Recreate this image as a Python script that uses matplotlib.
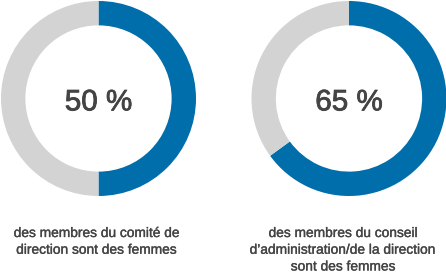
import matplotlib.pyplot as plt
import matplotlib.patheffects as pe

# données
pourcentages = [50, 65]
libelles = ["50 %", "65 %"]
legendes = [
    "des membres du comité de\ndirection sont des femmes",
    "des membres du conseil\nd\u2019administration/de la direction\nsont des femmes",
]

BLEU = "#006eaa"
GRIS = "#d3d3d3"
TEXTE = "#444444"

W, H = 446, 274
plt.rcParams["font.family"] = ["Liberation Sans", "DejaVu Sans"]
fig = plt.figure(figsize=(W / 100, H / 100), dpi=100)

centres_x = [98.5, 349]
centre_y = 98.5
rayon = 97.5
epais = [pe.withStroke(linewidth=0.6, foreground=TEXTE)]

for cx, p, lib in zip(centres_x, pourcentages, libelles):
    ax = fig.add_axes([(cx - rayon) / W, (H - centre_y - rayon) / H,
                       2 * rayon / W, 2 * rayon / H])
    ax.pie([p, 100 - p], colors=[BLEU, GRIS], startangle=90, counterclock=False,
           radius=1, wedgeprops=dict(width=0.25, linewidth=0))
    ax.set_xlim(-1, 1)
    ax.set_ylim(-1, 1)
    ax.set_aspect("equal")
    ax.axis("off")
    ax.text(0, -0.04, lib, ha="center", va="center", fontsize=21.3, color=TEXTE,
            path_effects=epais)

legende_x = [96.5, 343]
for lx, txt in zip(legende_x, legendes):
    fig.text(lx / W, 1 - 226 / H, txt, ha="center", va="top", fontsize=9.9,
             color=TEXTE, linespacing=1.25,
             path_effects=[pe.withStroke(linewidth=0.25, foreground=TEXTE)])

fig.savefig("out.png", dpi=100)
